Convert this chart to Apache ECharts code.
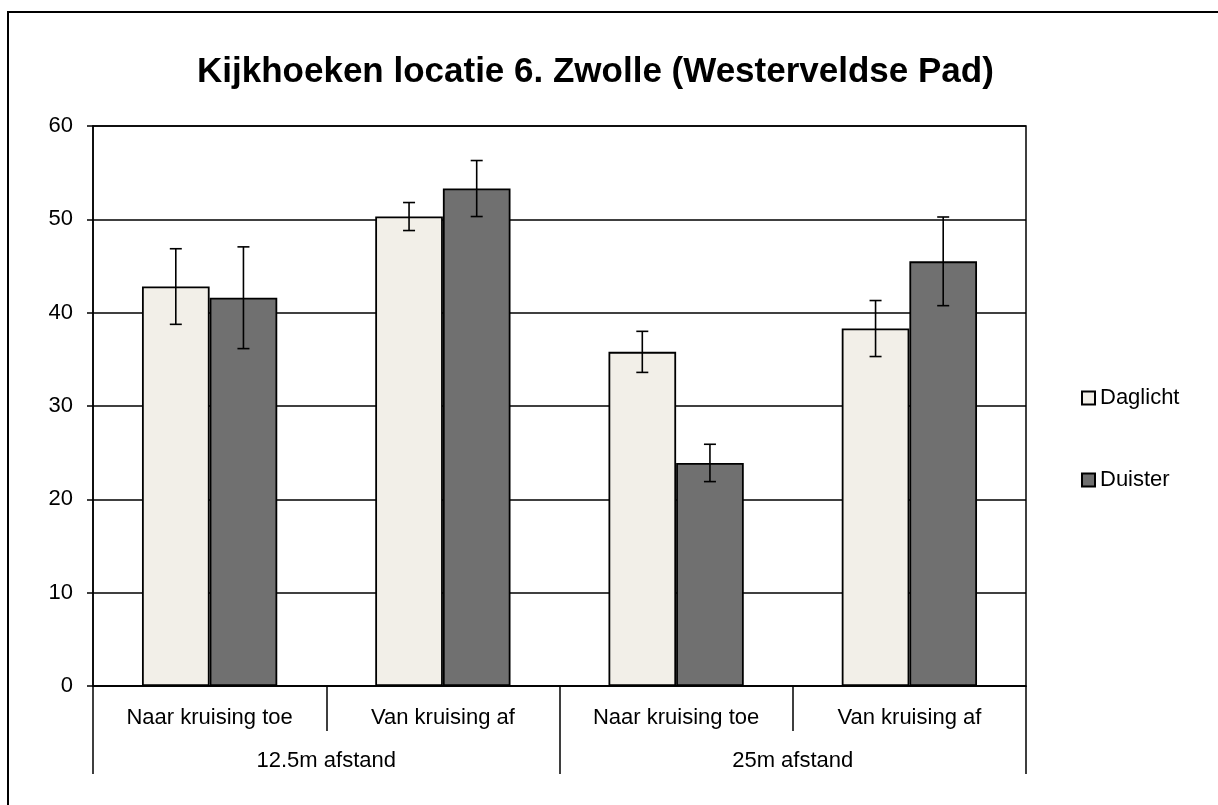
<html>
<head>
    <meta charset="utf-8">
    <script src="https://cdn.jsdelivr.net/npm/echarts@6/dist/echarts.min.js"></script>
    <style>
        body { margin: 0; background: #fff; }
        #chart { width: 1218px; height: 805px; }
    </style>
</head>
<body>
    <div id="chart"></div>
    <script>
        // data
        var categories = ['Naar kruising toe', 'Van kruising af', 'Naar kruising toe', 'Van kruising af'];
        var groups = ['12.5m afstand', '25m afstand'];
        var daglicht = [42.8, 50.3, 35.8, 38.3];
        var duister = [41.6, 53.3, 23.9, 45.5];
        var daglichtErr = [4.05, 1.5, 2.2, 3.0];
        var duisterErr = [5.45, 3.0, 2.0, 4.75];

        var catGap = 0.42;

        function errorSeries(name, values, errs, side) {
            return {
                type: 'custom',
                name: name + ' fout',
                xAxisIndex: 0,
                z: 10,
                silent: true,
                data: values.map(function (v, i) { return [i, v - errs[i], v + errs[i]]; }),
                renderItem: function (params, api) {
                    var band = api.size([1, 0])[0];
                    var barW = band * (1 - catGap) / 2;
                    var lo = api.coord([api.value(0), api.value(1)]);
                    var hi = api.coord([api.value(0), api.value(2)]);
                    var x = lo[0] + side * barW / 2;
                    var cap = 6;
                    var style = { stroke: '#000', lineWidth: 1.6 };
                    return {
                        type: 'group',
                        children: [
                            { type: 'line', shape: { x1: x, y1: lo[1], x2: x, y2: hi[1] }, style: style },
                            { type: 'line', shape: { x1: x - cap, y1: hi[1], x2: x + cap, y2: hi[1] }, style: style },
                            { type: 'line', shape: { x1: x - cap, y1: lo[1], x2: x + cap, y2: lo[1] }, style: style }
                        ]
                    };
                }
            };
        }

        var chart = echarts.init(document.getElementById('chart'));
        chart.setOption({
            animation: false,
            textStyle: { fontFamily: 'Liberation Sans, Arial, sans-serif', color: '#000' },
            title: {
                text: 'Kijkhoeken locatie 6. Zwolle (Westerveldse Pad)',
                left: 197,
                top: 55,
                padding: 0,
                textStyle: { fontSize: 35, fontWeight: 'bold', color: '#000' }
            },
            graphic: [{
                type: 'rect',
                shape: { x: 8, y: 12, width: 1400, height: 1000 },
                style: { fill: 'none', stroke: '#000', lineWidth: 2 },
                silent: true
            }],
            legend: {
                orient: 'vertical',
                left: 1081,
                top: 387,
                padding: 0,
                icon: 'rect',
                itemWidth: 13,
                itemHeight: 13,
                itemGap: 60,
                data: ['Daglicht', 'Duister'],
                textStyle: { fontSize: 22, color: '#000' }
            },
            grid: {
                left: 93, right: 192, top: 126, bottom: 119,
                show: true, borderColor: '#000', borderWidth: 1.5
            },
            xAxis: [{
                type: 'category',
                data: categories,
                axisLine: { lineStyle: { color: '#000', width: 1.5 } },
                axisTick: { show: true, interval: 0, length: 45, lineStyle: { color: '#000', width: 1.5 } },
                axisLabel: { interval: 0, fontSize: 22, color: '#000', margin: 21 },
                splitLine: { show: false }
            }, {
                type: 'category',
                data: groups,
                position: 'bottom',
                offset: 0,
                axisLine: { show: false },
                axisTick: { show: true, interval: 0, length: 88, lineStyle: { color: '#000', width: 1.5 } },
                axisLabel: { interval: 0, fontSize: 22, color: '#000', margin: 64 },
                splitLine: { show: false }
            }],
            yAxis: {
                type: 'value',
                min: 0, max: 60, interval: 10,
                axisLine: { show: true, lineStyle: { color: '#000', width: 1.5 } },
                axisTick: { show: true, length: 6, lineStyle: { color: '#000', width: 1.5 } },
                axisLabel: { fontSize: 22, color: '#000', margin: 20 },
                splitLine: { lineStyle: { color: '#000', width: 1.5 } }
            },
            series: [{
                name: 'Daglicht',
                type: 'bar',
                data: daglicht,
                barGap: '0%',
                barCategoryGap: '42%',
                itemStyle: { color: '#F2EFE8', borderColor: '#000', borderWidth: 1.8 }
            }, {
                name: 'Duister',
                type: 'bar',
                data: duister,
                barGap: '0%',
                barCategoryGap: '42%',
                itemStyle: { color: '#707070', borderColor: '#000', borderWidth: 1.8 }
            },
            errorSeries('Daglicht', daglicht, daglichtErr, -1),
            errorSeries('Duister', duister, duisterErr, 1)
            ]
        });
    </script>
</body>
</html>
